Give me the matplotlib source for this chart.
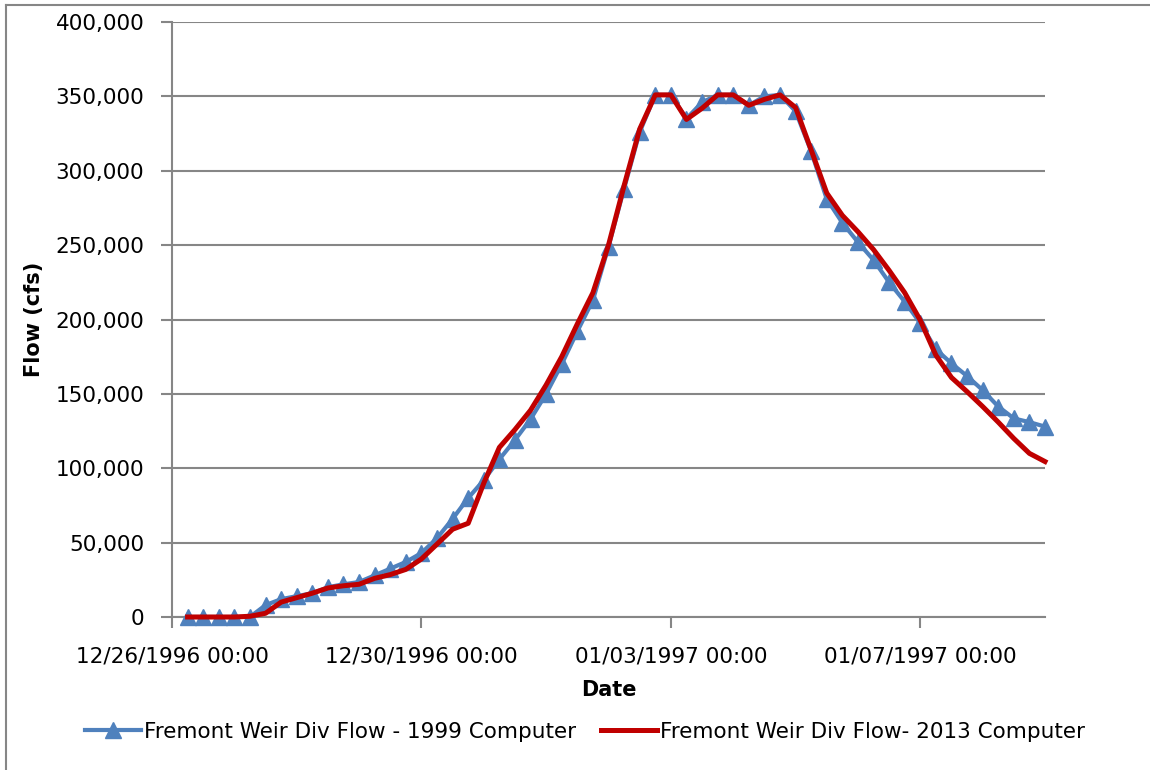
import matplotlib
matplotlib.use("Agg")
import matplotlib.pyplot as plt
from matplotlib.lines import Line2D
from matplotlib.ticker import FuncFormatter

# 6-hourly steps starting 12/26/1996
tick_labels = ["12/26/1996 00:00", "12/30/1996 00:00", "01/03/1997 00:00", "01/07/1997 00:00"]
tick_steps = [0, 16, 32, 48]

flow_1999 = [0, 0, 0, 0, 0, 8000, 12000, 14000, 16000, 20000,
             22000, 23500, 28000, 32500, 37000, 43000, 53000, 66000, 80000, 92000,
             106000, 119000, 133000, 150000, 170000, 192000, 213000, 249000, 288000, 326000,
             351000, 351000, 335000, 346000, 351000, 351000, 344000, 350000, 351000, 340000,
             313000, 281000, 265000, 252000, 240000, 225000, 212000, 197500, 180000, 170500,
             162000, 152500, 141500, 133500, 131000, 128000]

flow_2013 = [0, 0, 0, 0, 500, 2500, 10000, 13000, 16000, 19500,
             21000, 22000, 26000, 28500, 32000, 39000, 49000, 59000, 63000, 90000,
             114000, 126000, 139000, 156000, 175000, 197000, 218000, 250000, 290000, 328000,
             351000, 351000, 334500, 342000, 351000, 351000, 344000, 348000, 351000, 342500,
             314000, 285000, 270000, 259000, 247000, 233000, 218000, 199500, 176000, 161000,
             151500, 141500, 131000, 120000, 110000, 104500]

steps = list(range(1, len(flow_1999) + 1))

plt.rcParams["font.family"] = ["DejaVu Sans"]

fig = plt.figure(figsize=(11.5, 7.7), dpi=100)
ax = fig.add_axes([172 / 1150, 153 / 770, 873 / 1150, 595 / 770])

gray = "#868686"
blue = "#4F81BD"
red = "#C00000"

ax.plot(steps, flow_1999, color=blue, lw=3, marker="^", ms=11.5, mec=blue, mfc=blue,
        clip_on=False, zorder=3)
ax.plot(steps, flow_2013, color=red, lw=3.6, clip_on=False, zorder=4)

ax.set_xlim(0, 56)
ax.set_ylim(0, 400000)
ax.set_yticks(range(0, 400001, 50000))
ax.yaxis.set_major_formatter(FuncFormatter(lambda v, p: f"{int(v):,}"))
ax.set_xticks(tick_steps)
ax.set_xticklabels(tick_labels)

ax.grid(axis="y", color=gray, lw=1.5)
ax.set_axisbelow(True)
for side in ["top", "right"]:
    ax.spines[side].set_visible(False)
for side in ["left", "bottom"]:
    ax.spines[side].set_color(gray)
    ax.spines[side].set_linewidth(1.5)
ax.tick_params(axis="both", colors=gray, width=1.5, length=8, labelcolor="black", labelsize=15.5)
ax.tick_params(axis="x", pad=13)
ax.tick_params(axis="y", pad=12)

ax.set_xlabel("Date", fontsize=15, fontweight="bold", labelpad=10)
ax.set_ylabel("Flow (cfs)", fontsize=15, fontweight="bold", labelpad=8)

handles = [
    Line2D([], [], color=blue, lw=3, marker="^", ms=11.5),
    Line2D([], [], color=red, lw=3.6),
]
fig.legend(handles, ["Fremont Weir Div Flow - 1999 Computer", "Fremont Weir Div Flow- 2013 Computer"],
           loc="center", bbox_to_anchor=(585 / 1150, 1 - 732 / 770), ncol=2, frameon=False,
           fontsize=15.5, handlelength=2.6, handletextpad=0.1, columnspacing=1.2)

# outer chart border (left and top edges only)
fig.add_artist(Line2D([6 / 1150, 6 / 1150], [0, 1 - 5 / 770], transform=fig.transFigure, color=gray, lw=1.5))
fig.add_artist(Line2D([6 / 1150, 1], [1 - 5 / 770, 1 - 5 / 770], transform=fig.transFigure, color=gray, lw=1.5))

fig.savefig("out.png", dpi=100)
